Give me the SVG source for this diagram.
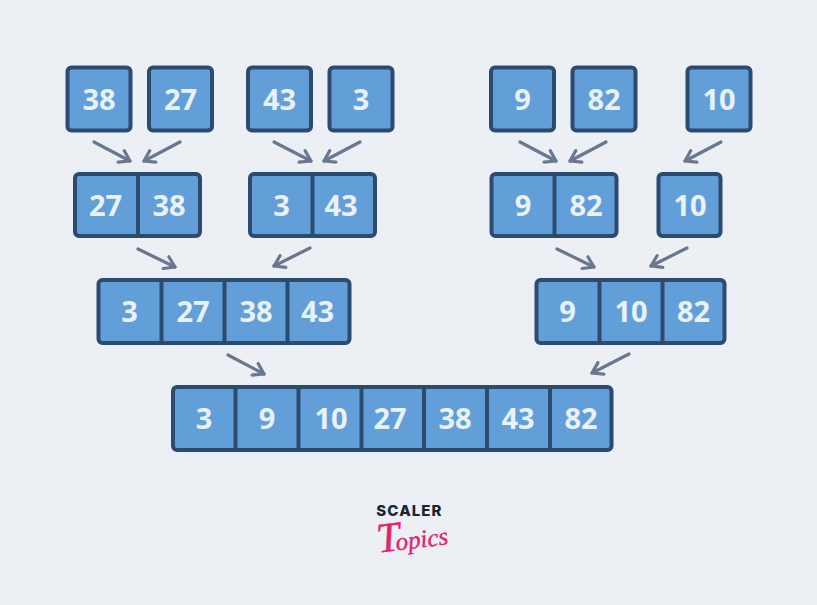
<svg xmlns="http://www.w3.org/2000/svg" width="817" height="605" viewBox="0 0 817 605">
<style>
.b{fill:#629fd9;stroke:#2d4a6f;stroke-width:4;}
.d{stroke:#2d4a6f;stroke-width:4;fill:none;}
.t{font-family:"Noto Sans","DejaVu Sans",sans-serif;font-weight:700;font-size:29px;fill:#e9f1f9;text-anchor:middle;}
.a{stroke:#69778f;stroke-width:3.2;fill:none;stroke-linecap:round;stroke-linejoin:round;}
</style>
<defs>
<marker id="h" markerUnits="userSpaceOnUse" markerWidth="20" markerHeight="20" refX="15" refY="10" orient="auto"><path d="M5 3.5L15 10L5 16.5" fill="none" stroke="#69778f" stroke-width="3.2" stroke-linecap="round" stroke-linejoin="round"/></marker>
</defs>
<rect width="817" height="605" fill="#ecf0f5"/>
<g id="connectors">
<path class="a" marker-end="url(#h)" d="M94 142L130 161"/>
<path class="a" marker-end="url(#h)" d="M180 142L144 161"/>
<path class="a" marker-end="url(#h)" d="M274 142L311 161"/>
<path class="a" marker-end="url(#h)" d="M360 142L324 161"/>
<path class="a" marker-end="url(#h)" d="M520 142L556 161"/>
<path class="a" marker-end="url(#h)" d="M606 142L570 161"/>
<path class="a" marker-end="url(#h)" d="M721 142L685 161"/>
<path class="a" marker-end="url(#h)" d="M138 249L175 267"/>
<path class="a" marker-end="url(#h)" d="M310 248L274 266"/>
<path class="a" marker-end="url(#h)" d="M557 249L594 267"/>
<path class="a" marker-end="url(#h)" d="M687 248L651 266"/>
<path class="a" marker-end="url(#h)" d="M228 355L264 374"/>
<path class="a" marker-end="url(#h)" d="M629 354L592 373"/>
</g>
<g id="n38"><rect class="b" x="67.500" y="67.500" width="63" height="63" rx="4"/><text class="t" x="99" y="110">38</text></g>
<g id="n27"><rect class="b" x="149" y="67.500" width="63" height="63" rx="4"/><text class="t" x="180.500" y="110">27</text></g>
<g id="n43"><rect class="b" x="248" y="67.500" width="63" height="63" rx="4"/><text class="t" x="279.500" y="110">43</text></g>
<g id="n3"><rect class="b" x="329.500" y="67.500" width="63" height="63" rx="4"/><text class="t" x="361" y="110">3</text></g>
<g id="n9"><rect class="b" x="491" y="67.500" width="63" height="63" rx="4"/><text class="t" x="522.500" y="110">9</text></g>
<g id="n82"><rect class="b" x="572.500" y="67.500" width="63" height="63" rx="4"/><text class="t" x="604" y="110">82</text></g>
<g id="n10"><rect class="b" x="687.500" y="67.500" width="63" height="63" rx="4"/><text class="t" x="719" y="110">10</text></g>

<g id="m2738"><rect class="b" x="75" y="174" width="125" height="62" rx="4"/><path class="d" d="M138 174V236"/><text class="t" x="105.500" y="216">27</text><text class="t" x="169" y="216">38</text></g>
<g id="m343"><rect class="b" x="250" y="174" width="125" height="62" rx="4"/><path class="d" d="M312.500 174V236"/><text class="t" x="281.500" y="216">3</text><text class="t" x="341" y="216">43</text></g>
<g id="m982"><rect class="b" x="491.500" y="174" width="125" height="62" rx="4"/><path class="d" d="M554.500 174V236"/><text class="t" x="523" y="216">9</text><text class="t" x="586" y="216">82</text></g>
<g id="m10"><rect class="b" x="658.500" y="174" width="62" height="62" rx="4"/><text class="t" x="690" y="216">10</text></g>

<g id="l4"><rect class="b" x="98.500" y="280" width="251" height="63" rx="4"/><path class="d" d="M161.500 280V343M224.500 280V343M287.500 280V343"/><text class="t" x="129.500" y="322">3</text><text class="t" x="193" y="322">27</text><text class="t" x="256" y="322">38</text><text class="t" x="317.500" y="322">43</text></g>
<g id="r3"><rect class="b" x="536.500" y="280" width="188" height="63" rx="4"/><path class="d" d="M599.500 280V343M662.500 280V343"/><text class="t" x="567.500" y="322">9</text><text class="t" x="631" y="322">10</text><text class="t" x="693.500" y="322">82</text></g>

<g id="all"><rect class="b" x="173" y="387" width="438.500" height="63" rx="4"/><path class="d" d="M235.500 387V450M298.500 387V450M361.500 387V450M424 387V450M487 387V450M550 387V450"/><text class="t" x="204" y="429">3</text><text class="t" x="267" y="429">9</text><text class="t" x="331" y="429">10</text><text class="t" x="390" y="429">27</text><text class="t" x="455" y="429">38</text><text class="t" x="518" y="429">43</text><text class="t" x="581" y="429">82</text></g>

<g id="logo"><text x="409.500" y="516" font-family="Inter,'Noto Sans',sans-serif" font-weight="800" font-size="15" letter-spacing="1.1" fill="#1b2433" text-anchor="middle">SCALER</text><text x="377" y="549" font-family="'Liberation Serif',serif" font-style="italic" font-size="25" fill="#e2246f" stroke="#e2246f" stroke-width="0.4" transform="rotate(-7 409 540)"><tspan font-size="42">T</tspan><tspan dx="-5">opics</tspan></text></g>
</svg>
